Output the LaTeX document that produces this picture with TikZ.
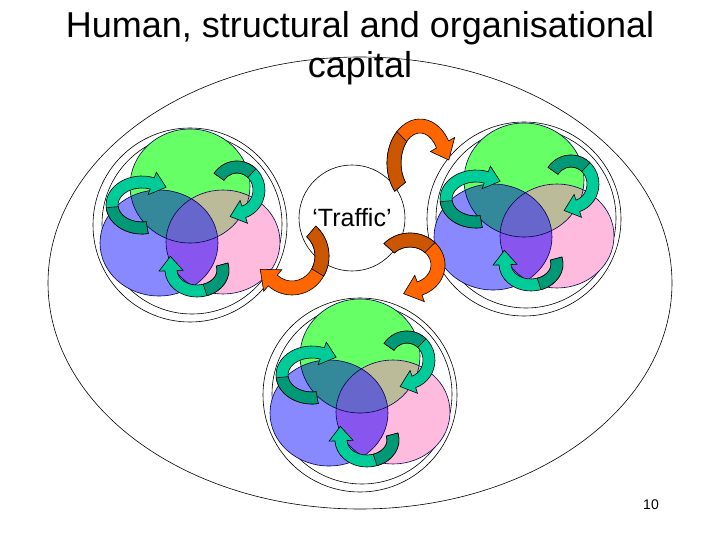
\documentclass[tikz,border=0pt]{standalone}
\usepackage{fontspec}
\setmainfont{Liberation Sans}
\usepackage{tikz}
\usetikzlibrary{shapes.geometric, positioning}
\definecolor{vgreen}{RGB}{102, 255, 102}
\definecolor{vblue}{RGB}{136, 136, 255}
\definecolor{vpink}{RGB}{255, 187, 221}
\definecolor{vgb}{RGB}{51, 136, 153}
\definecolor{vgp}{RGB}{187, 187, 153}
\definecolor{vbp}{RGB}{136, 85, 238}
\definecolor{vall}{RGB}{102, 102, 204}
\definecolor{tealfront}{RGB}{0, 204, 153}
\definecolor{tealback}{RGB}{0, 153, 119}
\definecolor{orangefront}{RGB}{255, 102, 0}
\definecolor{orangeback}{RGB}{204, 85, 0}
\tikzstyle{ring} = [draw=black, line width=0.6pt]
\tikzstyle{venn} = [draw=black!70!blue, line width=0.6pt]
\tikzstyle{bandline} = [draw=black, line width=0.6pt]
\tikzstyle{heading} = [anchor=base, inner sep=0pt, font=\fontsize{36}{42}\selectfont]
\tikzstyle{hub} = [circle, draw=black, line width=0.6pt, minimum size=106pt, inner sep=0pt, font=\fontsize{25}{28}\selectfont]
\tikzstyle{pagenum} = [anchor=base, inner sep=0pt, font=\fontsize{14}{16}\selectfont]

% curved ribbon arrow: centre, x radius, y radius, from, to, half width, colour
\newcommand{\bentarrow}[7]{%
  \begin{scope}[shift={#1}]
    \pgfmathsetmacro{\axo}{#2+#6}
    \pgfmathsetmacro{\ayo}{#3+#6}
    \pgfmathsetmacro{\axi}{#2-#6}
    \pgfmathsetmacro{\ayi}{#3-#6}
    \pgfmathsetmacro{\amid}{#4+0.45*(#5-(#4))}
    \pgfmathsetmacro{\atx}{-#2*sin(#5)}
    \pgfmathsetmacro{\aty}{#3*cos(#5)}
    \pgfmathsetmacro{\atl}{veclen(\atx,\aty)}
    \pgfmathsetmacro{\ahx}{#2*cos(#5)+2.4*#6*\atx/\atl}
    \pgfmathsetmacro{\ahy}{#3*sin(#5)+2.4*#6*\aty/\atl}
    \filldraw[bandline, fill=#7front] ({\axo*cos(#4)},{\ayo*sin(#4)})
      arc[start angle=#4, end angle=#5, x radius=\axo, y radius=\ayo]
      -- ({(#2+2*#6)*cos(#5)},{(#3+2*#6)*sin(#5)}) -- (\ahx,\ahy)
      -- ({(#2-2*#6)*cos(#5)},{(#3-2*#6)*sin(#5)})
      -- ({\axi*cos(#5)},{\ayi*sin(#5)})
      arc[start angle=#5, end angle=#4, x radius=\axi, y radius=\ayi] -- cycle;
    \filldraw[bandline, fill=#7back] ({\axo*cos(#4)},{\ayo*sin(#4)})
      arc[start angle=#4, end angle=\amid, x radius=\axo, y radius=\ayo]
      -- ({\axi*cos(\amid)},{\ayi*sin(\amid)})
      arc[start angle=\amid, end angle=#4, x radius=\axi, y radius=\ayi] -- cycle;
  \end{scope}}

% three overlapping capitals with their arrows, placed at the green centre
\newcommand{\capitalset}[1]{%
  \begin{scope}[shift={#1}]
    \draw[ring] (0,39) circle[radius=97];
    \draw[ring] (2,38) circle[radius=90];
    \fill[vgreen] (0,0) ellipse[x radius=60, y radius=57];
    \fill[vblue] (-31,57) ellipse[x radius=59, y radius=53];
    \fill[vpink] (33,56) ellipse[x radius=57, y radius=52];
    \begin{scope}
      \clip (-31,57) ellipse[x radius=59, y radius=53];
      \fill[vbp] (33,56) ellipse[x radius=57, y radius=52];
    \end{scope}
    \begin{scope}
      \clip (0,0) ellipse[x radius=60, y radius=57];
      \fill[vgb] (-31,57) ellipse[x radius=59, y radius=53];
      \fill[vgp] (33,56) ellipse[x radius=57, y radius=52];
      \clip (-31,57) ellipse[x radius=59, y radius=53];
      \fill[vall] (33,56) ellipse[x radius=57, y radius=52];
    \end{scope}
    \draw[venn] (0,0) ellipse[x radius=60, y radius=57];
    \draw[venn] (-31,57) ellipse[x radius=59, y radius=53];
    \draw[venn] (33,56) ellipse[x radius=57, y radius=52];
    \bentarrow{(-48,19)}{30}{23}{80}{290}{6}{teal}
    \bentarrow{(47,4)}{22}{23}{215}{432}{6}{teal}
    \bentarrow{(7,84)}{26}{21}{-15}{178}{6}{teal}
  \end{scope}}

\begin{document}
\begin{tikzpicture}[x=1pt, y=-1pt]
\useasboundingbox (0,0) rectangle (720,540);

% Title
\node (title) [heading] at (360,38) {Human, structural and organisational};
\node (title2) [heading] at (360,78) {capital};

% Outer boundary and centre
\draw[ring] (360,283) ellipse[x radius=312, y radius=226];
\node (traffic) [hub] at (352,218) {‘Traffic’};

% Capital sets
\capitalset{(190,186)}
\capitalset{(524,180)}
\capitalset{(360,356)}

% Traffic arrows between the sets
\bentarrow{(420,163)}{26}{37}{140}{330}{7}{orange}
\bentarrow{(292,256)}{30}{32}{-50}{130}{7}{orange}
\bentarrow{(410,265)}{28}{25}{222}{430}{7}{orange}

\node (pageno) [pagenum] at (651,509) {10};

\end{tikzpicture}
\end{document}
